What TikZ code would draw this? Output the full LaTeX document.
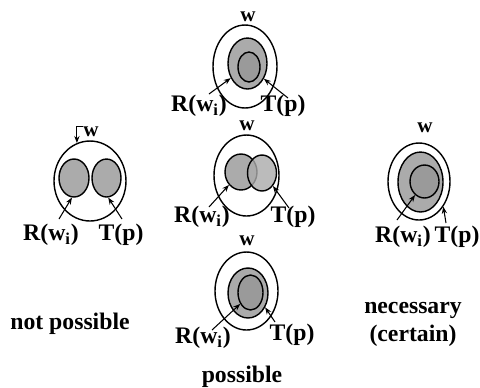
\documentclass[tikz,border=0pt]{standalone}
\usepackage{fontspec}
\setmainfont{Liberation Serif}
\usetikzlibrary{shapes.geometric,arrows.meta}
\definecolor{reachgray}{HTML}{ABABAB}
\definecolor{truthgray}{HTML}{9A9A9A}
\begin{document}
\begin{tikzpicture}[x=0.02cm,y=-0.02cm,
  world/.style={draw,ellipse,line width=0.8pt,inner sep=0pt,fill=white},
  reach/.style={draw,ellipse,line width=0.8pt,inner sep=0pt,fill=reachgray},
  truth/.style={draw,ellipse,line width=0.8pt,inner sep=0pt,fill=truthgray},
  lab/.style={font=\fontsize{13.5}{16}\selectfont\bfseries,inner sep=0pt},
  wlab/.style={font=\fontsize{12}{14}\selectfont\bfseries,inner sep=0pt},
  ptr/.style={-{Stealth[length=4pt,width=3pt]},line width=0.6pt}]
\useasboundingbox (0,0) rectangle (480,387);
% not possible
\node[world, minimum width=1.44cm, minimum height=1.6cm] (lw) at (90,181) {};
\node[reach, minimum width=0.6cm, minimum height=0.76cm] (lr) at (74,178) {};
\node[reach, minimum width=0.58cm, minimum height=0.76cm] (lt) at (106.5,178) {};
\node[wlab] (lwl) at (91,132) {w};
\node[lab] (lR) at (51,235) {R(w\textsubscript{i})};
\node[lab] (lT) at (121,235) {T(p)};
\coordinate (lRt) at (59,219);
\coordinate (lTt) at (122,219);
\draw[ptr] (lwl.north west) -| (lw.109);
\draw[ptr] (lRt) -- (lr.264);
\draw[ptr] (lTt) -- (lt.275);
\node[lab] (np) at (70,324) {not possible};
% possible, top
\node[world, minimum width=1.28cm, minimum height=1.66cm] (tw) at (245,66.5) {};
\node[reach, minimum width=0.78cm, minimum height=1.02cm] (tr) at (247.5,63.5) {};
\node[truth, minimum width=0.44cm, minimum height=0.6cm] (tt) at (249,67) {};
\node[wlab] (twl) at (248,17) {w};
\node[lab] (tR) at (199,106) {R(w\textsubscript{i})};
\node[lab] (tT) at (283,106) {T(p)};
\coordinate (tRt) at (209,94);
\coordinate (tTt) at (288,98);
\draw[ptr] (tRt) -- (tr.221);
\draw[ptr] (tTt) -- (tr.-43);
% possible, middle
\node[world, minimum width=1.3cm, minimum height=1.62cm] (mw) at (246.5,175.5) {};
\node[reach, minimum width=0.64cm, minimum height=0.72cm] (ml) at (241,172) {};
\node[reach, fill opacity=0.8, minimum width=0.58cm, minimum height=0.72cm] (mr) at (262,173) {};
\node[wlab] (mwl) at (247,126) {w};
\node[lab] (mR) at (202,217) {R(w\textsubscript{i})};
\node[lab] (mT) at (293,217) {T(p)};
\coordinate (mRt) at (209,207);
\coordinate (mTt) at (289,208);
\draw[ptr] (mRt) -- (ml.227);
\draw[ptr] (mTt) -- (mr.-50);
% possible, bottom
\node[world, minimum width=1.26cm, minimum height=1.56cm] (bw) at (246.5,291) {};
\node[reach, minimum width=0.8cm, minimum height=1.0cm] (br) at (248,293) {};
\node[truth, minimum width=0.5cm, minimum height=0.7cm] (bt) at (250.5,292.5) {};
\node[wlab] (bwl) at (247,241) {w};
\node[lab] (bR) at (203,338) {R(w\textsubscript{i})};
\node[lab] (bT) at (292,335) {T(p)};
\coordinate (bRt) at (212,330);
\coordinate (bTt) at (275,322);
\draw[ptr] (bRt) -- (bt.228);
\draw[ptr] (bTt) -- (br.-40);
\node[lab] (pos) at (242,377) {possible};
% necessary
\node[world, minimum width=1.24cm, minimum height=1.54cm] (rw) at (419,181.5) {};
\node[reach, minimum width=0.9cm, minimum height=1.2cm] (rr) at (420.5,182) {};
\node[truth, minimum width=0.58cm, minimum height=0.66cm] (rt) at (424.5,181.5) {};
\node[wlab] (rwl) at (425,128) {w};
\node[lab] (rR) at (403,237) {R(w\textsubscript{i})};
\node[lab] (rT) at (457,237) {T(p)};
\coordinate (rRt) at (397,220);
\coordinate (rTt) at (446,223);
\draw[ptr] (rRt) -- (rt.235);
\draw[ptr] (rTt) -- (rw.-46);
\node[lab, align=center] (nec) at (413,324) {necessary\\(certain)};
\end{tikzpicture}
\end{document}
